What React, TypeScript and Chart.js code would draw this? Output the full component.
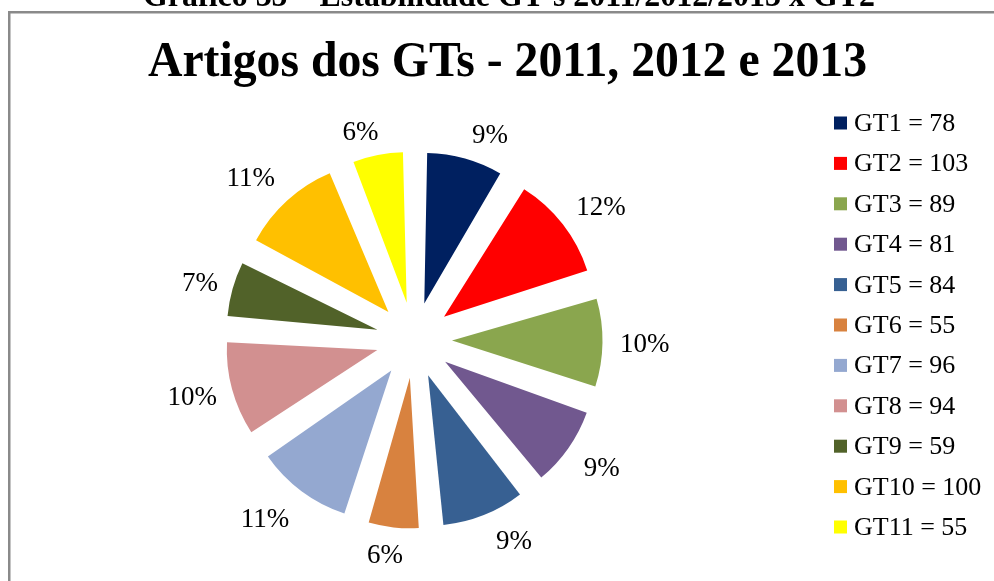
import React, { useEffect, useRef } from "react";
import { Chart, registerables } from "chart.js";

Chart.register(...registerables);

// ---- data ----
const categories = ["GT1", "GT2", "GT3", "GT4", "GT5", "GT6", "GT7", "GT8", "GT9", "GT10", "GT11"];
const values = [78, 103, 89, 81, 84, 55, 96, 94, 59, 100, 55];
const percentLabels = ["9%", "12%", "10%", "9%", "9%", "6%", "11%", "10%", "7%", "11%", "6%"];
const sliceColors = [
  "#002060", "#FF0000", "#8AA64E", "#71588F", "#376092", "#D8823F",
  "#94A8D0", "#D29090", "#516229", "#FFC000", "#FFFF00",
];
const captionText = "Gráfico 35 – Estabilidade GT's 2011/2012/2013 x GT2";
const titleText = "Artigos dos GTs - 2011, 2012 e 2013";

// ---- style ----
const SERIF = '"Liberation Serif", "Times New Roman", Times, serif';
const EXPLODE = 38; // px each slice is pulled out from the centre
const RADIUS = 150.5;
const LABEL_GAP = 16;
// small per-label placement nudges (degrees, px) mimicking the original label layout
const labelAngleNudge = [4.6, 2.3, 0, -1, -4.8, 1.5, 3.3, 0.9, -0.5, -2.7, -3.3];
const labelRadialNudge = [0, 0, 1.5, 2, 3, 0, 5, -2, -2.5, 3, -2];

const decorPlugin = {
  id: "decor",
  afterDatasetUpdate(chart: any, args: any) {
    // Chart.js enlarges small exploded arcs by (offset/4)*fix; undo that so all slices share one radius
    const meta = args.meta;
    meta.data.forEach((el: any) => {
      const circ = el.endAngle - el.startAngle;
      const fix = 1 - Math.sin(Math.min(Math.PI, circ));
      const t = ((el.options && el.options.offset) || 0) / 4;
      el.outerRadius = RADIUS - t * fix;
    });
  },
  beforeDraw(chart: any) {
    const ctx = chart.ctx as CanvasRenderingContext2D;
    ctx.save();
    ctx.fillStyle = "#ffffff";
    ctx.fillRect(0, 0, chart.width, chart.height);
    // frame
    ctx.strokeStyle = "#8a8a8a";
    ctx.lineWidth = 2.5;
    ctx.strokeRect(9.25, 12.25, chart.width + 50, chart.height + 50);
    // caption (cut off at top)
    ctx.fillStyle = "#000";
    ctx.font = `bold 33px ${SERIF}`;
    ctx.textAlign = "left";
    ctx.textBaseline = "alphabetic";
    let w = ctx.measureText(captionText).width;
    ctx.save();
    ctx.translate(143, 6);
    ctx.scale(732 / w, 1);
    ctx.fillText(captionText, 0, 0);
    ctx.restore();
    // title
    ctx.font = `bold 50px ${SERIF}`;
    w = ctx.measureText(titleText).width;
    ctx.save();
    ctx.translate(148, 76);
    ctx.scale(719 / w, 1);
    ctx.fillText(titleText, 0, 0);
    ctx.restore();
    ctx.restore();
  },
  afterDatasetsDraw(chart: any) {
    const ctx = chart.ctx as CanvasRenderingContext2D;
    const meta = chart.getDatasetMeta(0);
    const data = chart.data.datasets[0].data as number[];
    ctx.save();
    ctx.fillStyle = "#000";
    ctx.textAlign = "center";
    ctx.textBaseline = "alphabetic";
    ctx.font = `27px ${SERIF}`;
    const capH = 18;
    meta.data.forEach((el: any, i: number) => {
      const mid = (el.startAngle + el.endAngle) / 2 + (labelAngleNudge[i] * Math.PI) / 180;
      const c = Math.cos(mid);
      const s = Math.sin(mid);
      const txt = percentLabels[i];
      const tw = ctx.measureText(txt).width;
      const extent = (Math.abs(c) * tw) / 2 + (Math.abs(s) * capH) / 2;
      const r = RADIUS + EXPLODE + LABEL_GAP + extent + labelRadialNudge[i];
      const cx = el.x + c * r;
      const cy = el.y + s * r;
      ctx.fillText(txt, cx, cy + capH / 2);
    });
    // legend
    ctx.textAlign = "left";
    ctx.font = `26px ${SERIF}`;
    const labels = chart.data.labels as string[];
    const bg = chart.data.datasets[0].backgroundColor as string[];
    labels.forEach((lab, i) => {
      const y = 131 + 40.4 * i;
      ctx.fillStyle = bg[i];
      ctx.fillRect(834, y - 14.5, 13, 13);
      ctx.fillStyle = "#000";
      ctx.fillText(`${lab} = ${data[i]}`, 854, y);
    });
    ctx.restore();
  },
};

export default function App() {
  const ref = useRef<HTMLCanvasElement | null>(null);
  useEffect(() => {
    if (!ref.current) return;
    const chart = new Chart(ref.current, {
      type: "pie",
      data: {
        labels: categories,
        datasets: [
          {
            data: values,
            backgroundColor: sliceColors,
            borderWidth: 0,
            offset: EXPLODE * 4,
            radius: RADIUS as any,
          } as any,
        ],
      },
      options: {
        responsive: false,
        devicePixelRatio: 1,
        animation: false,
        events: [],
        layout: { padding: { left: 0, right: 166, top: 99, bottom: 0 } },
        plugins: {
          legend: { display: false },
          title: { display: false },
          tooltip: { enabled: false },
        },
      } as any,
      plugins: [decorPlugin],
    });
    return () => chart.destroy();
  }, []);
  return (
    <div style={{ position: "fixed", left: 0, top: 0, width: 994, height: 581, overflow: "hidden", background: "#fff" }}>
      <canvas ref={ref} width={994} height={581} style={{ display: "block", width: 994, height: 581 }} />
    </div>
  );
}
